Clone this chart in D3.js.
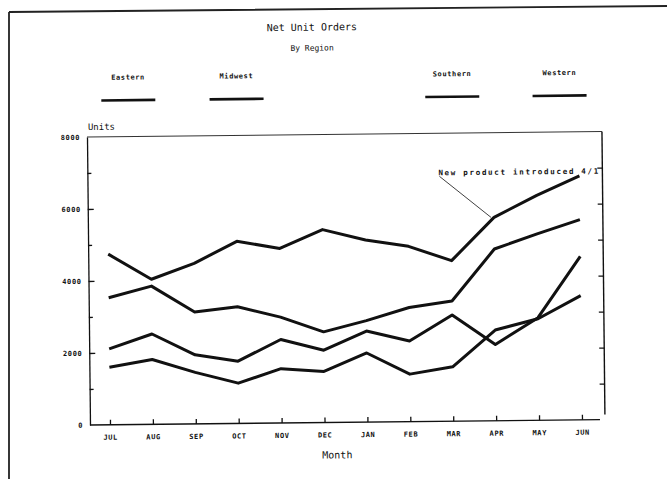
<!DOCTYPE html>
<html>
<head>
<meta charset="UTF-8">
<title>Net Unit Orders</title>
<script src="https://cdn.jsdelivr.net/npm/d3@7"></script>
<style>
body { margin: 0; background: #fff; }
svg { display: block; background: #fff; }
text { font-family: 'DejaVu Sans Mono', monospace; fill: #111; }
.small { font-size: 7px; font-weight: bold; letter-spacing: 0.6px; }
.axis path, .axis line { stroke: #111; stroke-width: 1.3; }
</style>
</head>
<body>
<svg id="chart" width="667" height="479"></svg>
<script>
// data
const months = ["JUL", "AUG", "SEP", "OCT", "NOV", "DEC", "JAN", "FEB", "MAR", "APR", "MAY", "JUN"];
const regions = ["Eastern", "Midwest", "Southern", "Western"];
const eastern  = [1600, 1800, 1430, 1120, 1510, 1420, 1920, 1320, 1510, 2520, 2820, 3450];
const midwest  = [2110, 2510, 1920, 1730, 2320, 2010, 2530, 2240, 2950, 2120, 2850, 4540];
const southern = [3530, 3840, 3110, 3240, 2940, 2520, 2820, 3170, 3340, 4770, 5180, 5560];
const western  = [4740, 4030, 4460, 5060, 4850, 5360, 5060, 4870, 4460, 5650, 6250, 6780];
const yTicks = [0, 2000, 4000, 6000, 8000];
const yMinor = [1000, 3000, 5000, 7000];
const note = "New product introduced 4/1";

const series = [eastern, midwest, southern, western];

const svg = d3.select("#chart");

// page frame of the scanned sheet
svg.append("path")
    .attr("d", "M9,12 L667,6 M9,12 L9,479")
    .attr("fill", "none")
    .attr("stroke", "#222")
    .attr("stroke-width", 1.8);

// the scan is slightly tilted, so the whole chart is rotated a little
const g = svg.append("g").attr("transform", "rotate(-0.6, 90, 425)");

const x = d3.scalePoint().domain(months).range([110, 582]);
const y = d3.scaleLinear().domain([0, 8000]).range([425, 137]);

// titles
g.append("text").attr("x", 316).attr("y", 33).attr("text-anchor", "middle")
    .style("font-size", "10px").text("Net Unit Orders");
g.append("text").attr("x", 316).attr("y", 53).attr("text-anchor", "middle")
    .style("font-size", "8px").text("By Region");

// legend
const legendX = [131.7, 240, 455.7, 563];
regions.forEach((r, i) => {
    g.append("text").attr("class", "small")
        .attr("x", legendX[i]).attr("y", 80).attr("text-anchor", "middle").text(r);
    g.append("line")
        .attr("x1", legendX[i] - 27).attr("x2", legendX[i] + 27)
        .attr("y1", 100.6).attr("y2", 100.6)
        .attr("stroke", "#111").attr("stroke-width", 2.6);
});

// plot box
g.append("line").attr("x1", 90).attr("x2", 605).attr("y1", 137).attr("y2", 137)
    .attr("stroke", "#333").attr("stroke-width", 1);
g.append("line").attr("x1", 605).attr("x2", 605).attr("y1", 137).attr("y2", 420)
    .attr("stroke", "#111").attr("stroke-width", 1.4);
g.append("line").attr("x1", 90).attr("x2", 600).attr("y1", 425).attr("y2", 425)
    .attr("stroke", "#111").attr("stroke-width", 1.4);

// left axis
const yAxis = g.append("g").attr("class", "axis")
    .attr("transform", "translate(90,0)")
    .call(d3.axisLeft(y).tickValues(yTicks).tickSize(-6).tickSizeOuter(0).tickPadding(7)
        .tickFormat(d3.format("d")));
yAxis.selectAll("text").attr("class", "small");
yAxis.selectAll(".tick").filter(d => d === 0 || d === 8000).select("line").remove();

g.append("g").attr("class", "axis")
    .attr("transform", "translate(90,0)")
    .call(d3.axisLeft(y).tickValues(yMinor).tickSize(-4).tickFormat(""))
    .select(".domain").remove();

// right axis ticks, pointing in
g.append("g").attr("class", "axis")
    .attr("transform", "translate(605,0)")
    .call(d3.axisRight(y).tickValues(yMinor.concat([2000, 4000, 6000])).tickSize(-5).tickFormat(""))
    .select(".domain").remove();

// bottom axis
const xAxis = g.append("g").attr("class", "axis")
    .attr("transform", "translate(0,425)")
    .call(d3.axisBottom(x).tickSize(-5).tickPadding(10));
xAxis.select(".domain").remove();
xAxis.selectAll("text").attr("class", "small");

// axis titles
g.append("text").attr("x", 91).attr("y", 130).style("font-size", "9px").text("Units");
g.append("text").attr("x", 337).attr("y", 461).attr("text-anchor", "middle")
    .style("font-size", "10px").text("Month");

// series lines
const line = d3.line()
    .x((d, i) => x(months[i]))
    .y(d => y(d));

g.selectAll(".series")
    .data(series)
    .enter().append("path")
    .attr("class", "series")
    .attr("d", line)
    .attr("fill", "none")
    .attr("stroke", "#111")
    .attr("stroke-width", 3)
    .attr("stroke-linejoin", "round");

// annotation with leader line
g.append("text").attr("class", "small")
    .attr("x", 441).attr("y", 179)
    .style("font-size", "7.5px").style("letter-spacing", "1.7px")
    .text(note);
g.append("line")
    .attr("x1", 442).attr("y1", 180)
    .attr("x2", x("APR") - 3).attr("y2", y(western[9]))
    .attr("stroke", "#111").attr("stroke-width", 0.8);
</script>
</body>
</html>
